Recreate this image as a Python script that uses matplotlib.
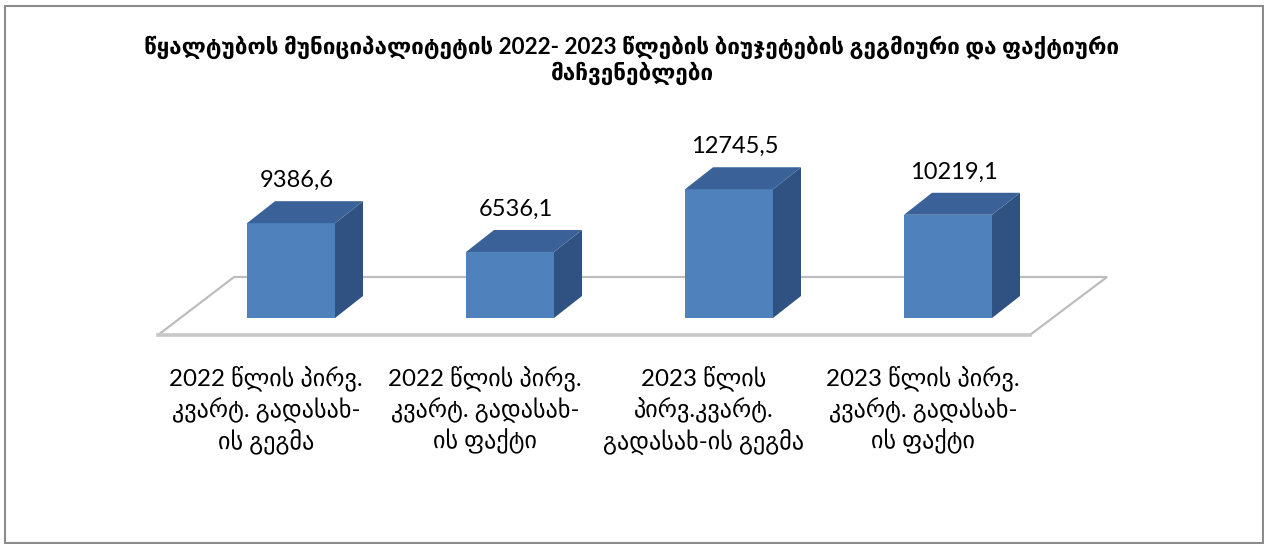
import matplotlib
matplotlib.use("Agg")
import matplotlib.pyplot as plt
from matplotlib.patches import Polygon, Rectangle

plt.rcParams['font.family'] = ['Lato', 'DejaVu Sans']

title = ("წყალტუბოს მუნიციპალიტეტის 2022- 2023 წლების ბიუჯეტების გეგმიური და ფაქტიური\n"
         "მაჩვენებლები")
categories = [
    "2022 წლის პირვ.\nკვარტ. გადასახ-\nის გეგმა",
    "2022 წლის პირვ.\nკვარტ. გადასახ-\nის ფაქტი",
    "2023 წლის\nპირვ.კვარტ.\nგადასახ-ის გეგმა",
    "2023 წლის პირვ.\nკვარტ. გადასახ-\nის ფაქტი",
]
values = [9386.6, 6536.1, 12745.5, 10219.1]
value_labels = ["9386,6", "6536,1", "12745,5", "10219,1"]

# colours of the 3d box faces
FRONT = '#4f81bd'
SIDE = '#2f5283'
TOP = '#3a6298'
FLOOR_EDGE = '#bdbdbd'

W, H = 1264, 544
fig = plt.figure(figsize=(W / 100, H / 100), dpi=100)
ax = fig.add_axes([0, 0, 1, 1])
ax.set_axis_off()

# one category step is 219 px, one value unit is ~1/99 px
px_x = 1 / 219
px_y = 99
ax.set_xlim(-291 * px_x, (W - 291) * px_x)
ax.set_ylim(-(H - 318) * px_y, 318 * px_y)

half = 44 * px_x
dx, dy = 28 * px_x, 22 * px_y

# floor plane
n = len(values)
floor_front, floor_back = -17 * px_y, 41 * px_y
floor = Polygon([(-0.607, floor_front), (n - 1 + 0.374, floor_front),
                 (n - 1 + 0.726, floor_back), (-0.26, floor_back)],
                closed=True, facecolor='white', edgecolor=FLOOR_EDGE, lw=1.6, zorder=1)
ax.add_patch(floor)
ax.plot([-0.607, n - 1 + 0.374], [floor_front, floor_front], color='#c8c8c8', lw=2.6, zorder=1)

for i, v in enumerate(values):
    x0, x1 = i - half, i + half
    ax.add_patch(Polygon([(x0, 0), (x1, 0), (x1, v), (x0, v)], closed=True,
                         facecolor=FRONT, edgecolor='none', zorder=3))
    ax.add_patch(Polygon([(x1, 0), (x1 + dx, dy), (x1 + dx, v + dy), (x1, v)], closed=True,
                         facecolor=SIDE, edgecolor='none', zorder=3))
    ax.add_patch(Polygon([(x0, v), (x1, v), (x1 + dx, v + dy), (x0 + dx, v + dy)], closed=True,
                         facecolor=TOP, edgecolor='none', zorder=3))
    ax.annotate(value_labels[i], (i + 6 * px_x, v + dy), xytext=(0, 15),
                textcoords='offset points', ha='center', va='center',
                fontsize=17, color='black', zorder=4)
    ax.text(i - 25 * px_x, -(410 - 318) * px_y, categories[i], ha='center', va='center',
            fontsize=17.4, linespacing=1.3, color='black')

fig.text(632 / W, 1 - 60 / H, title, ha='center', va='center', fontsize=16.2,
         fontweight='bold', linespacing=1.15)

fig.patches.append(Rectangle((5 / W, 1 / H), 1258 / W, 537 / H, transform=fig.transFigure,
                             fill=False, edgecolor='#8c8c8c', lw=1.5))

fig.savefig('out.png', dpi=100, facecolor='white')
